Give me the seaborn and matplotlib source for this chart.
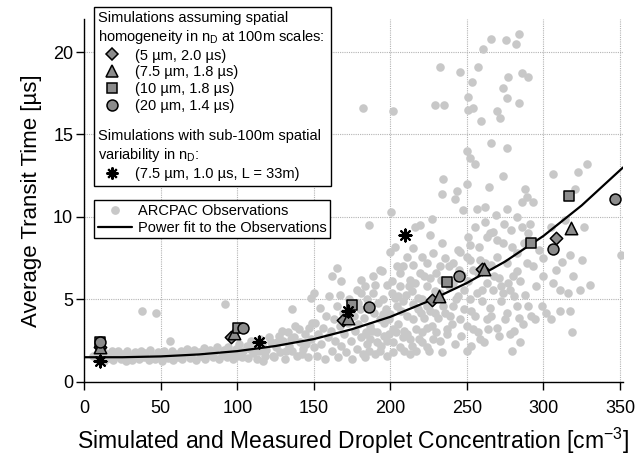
import numpy as np
import matplotlib
matplotlib.use("Agg")
import matplotlib.pyplot as plt
import seaborn as sns
from matplotlib.lines import Line2D
from matplotlib.legend import Legend
from matplotlib.patches import Rectangle
from matplotlib.transforms import Bbox

# ARCPAC observations (grouped by x range)
obs_x = [
    # dense band, x < 60
    6, 8, 9, 11, 12, 13, 15, 16, 18, 19,
    21, 22, 24, 25, 27, 28, 30, 31, 33, 34,
    36, 37, 39, 40, 42, 43, 45, 46, 48, 49,
    51, 52, 54, 55, 57, 58, 60,
    # band 60-100
    61, 63, 64, 66, 67, 69, 70, 72, 73, 75,
    76, 78, 79, 81, 82, 84, 85, 87, 88, 90,
    91, 93, 94, 96, 97, 99, 100,
    # band 100-150
    101, 103, 104, 106, 107, 109, 110, 112, 113, 115,
    116, 118, 119, 121, 122, 124, 125, 127, 128, 130,
    131, 133, 134, 136, 137, 139, 140, 141, 143, 144,
    146, 147, 148, 150,
    102, 108, 114, 117, 123, 126, 129, 132, 135, 138,
    142, 145, 149,
    # scattered outliers at low x
    38, 47, 56, 92, 136, 148, 150,
    # 150-185
    151, 152, 153, 154, 155, 156, 157, 158, 159, 160,
    161, 162, 162, 163, 164, 165, 165, 166, 167, 167,
    168, 168, 169, 170, 171, 172, 173, 174, 175, 176,
    177, 178, 178, 179, 180, 181, 181, 182, 183, 184,
    185, 185,
    # 185-230
    186.2, 186.7, 188.8, 188.8, 183.4, 183.4, 190, 193.2, 193.2, 194.3,
    195.3, 197.6, 199.7, 200.2, 200.8, 201.9, 203, 204.1, 204.1, 206.3,
    206, 208, 208.4, 210.6, 212.8, 212.8, 215, 215, 215, 215,
    216, 219.3, 219.3, 220.4, 220.4, 223.7, 223.7, 223.7, 225.9, 227,
    227, 228,
    187, 189, 191, 192, 194, 196, 197, 198, 199, 200,
    202, 203, 205, 207, 209, 210, 211, 213, 214, 217,
    218, 219, 221, 222, 224, 226, 229, 230,
    179, 181, 184, 186, 188, 190, 191, 193, 195, 196,
    198, 199, 201, 202, 204, 205, 206, 208, 209, 211,
    212, 214, 216, 217, 218, 220, 221, 222, 224, 225,
    226, 228, 229, 230,
    # 230-290
    232.4, 232.4, 232.4, 233.5, 233.5, 234.6, 234.6, 235.7, 236.8, 241.1,
    241.1, 241.1, 242.2, 243.3, 244.3, 245.5, 245.5, 247.6, 249.8, 249.8,
    250.2, 252, 252, 252, 252, 254.2, 255.3, 255.3, 256.4, 256.4,
    258.5, 258.5, 261.8, 261.8, 262.9, 262.9, 264.6, 267.2, 267.2, 269,
    269.4, 269.4, 273.8, 273.8, 273.8, 276, 276, 276, 279.2, 279.2,
    280.3, 282.5, 282.5, 282.5, 284.7, 285.8, 285.8, 286.8, 287.9, 289,
    289, 290,
    238, 239, 244, 247, 248, 251, 253, 257, 260, 263,
    265, 266, 271, 272, 278, 281,
    231, 233, 234, 236, 237, 238, 240, 242, 243, 245,
    246, 248, 250, 251, 253, 254, 255, 257, 258, 260,
    261, 262, 264, 265, 266, 268, 270, 271, 272, 274,
    275, 277, 278, 279, 281, 283, 284, 285, 287, 288,
    290,
    # 290-352
    291.2, 293.4, 293.4, 294.5, 298.8, 299.9, 304.7, 306, 306.4, 310.8,
    310.8, 316.2, 317.3, 317.3, 318.4, 319.5, 320.6, 322.8, 323.9, 326.5,
    328.2, 330.4, 351,
    292, 295, 297, 300, 302, 305, 308, 312, 314, 325,
    # high values
    182, 201.6, 232.6, 229.3, 235, 245.7, 257.4, 260.7, 265.9, 275.3,
    282, 284.2, 253.5, 250.9, 250.5, 253.7, 259.4, 269.6, 271.4, 273.3,
    276.2, 276.6, 283.8, 286, 290, 265.7, 276.2, 249.8,
]
obs_y = [
    1.6, 1.4, 1.8, 1.5, 1.9, 1.3, 1.7, 1.45, 1.85, 1.35,
    1.6, 1.9, 1.4, 1.7, 1.3, 1.85, 1.55, 1.35, 1.8, 1.6,
    1.4, 1.9, 1.5, 1.75, 1.35, 1.95, 1.6, 1.4, 1.8, 1.55,
    1.3, 1.9, 1.65, 1.45, 1.85, 1.35, 1.7,
    1.5, 1.9, 1.4, 1.75, 2.0, 1.45, 1.65, 1.95, 1.35, 1.8,
    1.55, 2.05, 1.4, 1.7, 1.95, 1.5, 1.8, 2.1, 1.4, 1.65,
    1.95, 1.5, 2.15, 1.75, 1.4, 2.0, 1.6,
    2.3, 1.5, 1.9, 2.2, 1.45, 2.5, 1.75, 2.05, 1.4, 2.6,
    2.3, 1.6, 1.95, 2.7, 2.4, 1.5, 2.1, 2.8, 1.8, 2.5,
    1.4, 3.0, 2.2, 1.9, 2.7, 1.6, 3.2, 2.4, 2.0, 2.9,
    1.5, 3.3, 2.6, 2.1,
    1.7, 2.0, 1.9, 1.3, 1.6, 2.4, 3.1, 1.9, 2.6, 3.4,
    1.7, 2.3, 3.6,
    4.3, 4.2, 2.5, 4.7, 4.4, 5.1, 5.4,
    3.6, 1.6, 2.9, 4.5, 2.3, 3.3, 1.4, 4.0, 2.7, 5.2,
    3.1, 6.4, 1.9, 3.8, 2.5, 6.9, 4.6, 1.5, 5.3, 3.4,
    6.1, 2.2, 4.2, 2.9, 1.8, 3.6, 5.0, 2.5, 1.4, 4.0,
    3.1, 5.6, 2.0, 3.5, 4.4, 5.4, 2.7, 1.7, 3.9, 3.0,
    5.0, 2.3,
    9.5, 3.4, 6.4, 5.4, 5.8, 1.5, 1.7, 3.8, 6.8, 6.7,
    5.0, 2.5, 7.9, 10.3, 5.4, 3.2, 8.2, 7.0, 4.6, 5.8,
    6.6, 7.0, 2.7, 7.6, 6.2, 1.7, 8.1, 7.1, 4.7, 3.8,
    9.4, 9.5, 6.6, 7.6, 3.0, 7.2, 5.8, 2.1, 8.9, 9.9,
    3.4, 7.8,
    2.6, 4.2, 3.0, 4.8, 2.2, 3.6, 4.4, 5.9, 2.9, 4.1,
    2.4, 5.1, 3.5, 4.3, 3.1, 5.3, 4.0, 2.6, 5.5, 3.2,
    4.4, 2.6, 5.0, 3.9, 4.6, 6.3, 4.2, 3.0,
    4.8, 6.2, 2.9, 1.9, 3.1, 5.9, 2.4, 1.9, 4.1, 2.8,
    1.6, 3.8, 6.1, 1.8, 3.0, 5.2, 2.1, 4.9, 1.9, 2.9,
    5.8, 2.2, 6.0, 1.9, 5.1, 4.2, 2.4, 6.4, 3.3, 1.9,
    4.3, 2.6, 5.5, 6.6,
    7.0, 5.4, 2.5, 8.4, 11.4, 12.3, 4.6, 7.5, 3.2, 7.2,
    6.0, 4.6, 11.1, 11.6, 8.0, 7.9, 3.8, 10.4, 7.6, 1.9,
    12.0, 13.6, 8.3, 7.4, 5.0, 3.2, 13.2, 9.4, 10.5, 5.4,
    7.4, 2.6, 10.6, 9.7, 8.8, 3.8, 11.8, 9.1, 5.6, 10.1,
    7.6, 3.3, 12.5, 8.4, 5.4, 10.5, 7.2, 4.2, 8.2, 1.9,
    6.4, 10.0, 6.7, 4.6, 2.4, 10.9, 9.4, 3.5, 11.7, 11.2,
    7.2, 4.6,
    5.8, 4.0, 5.2, 6.5, 4.4, 6.1, 4.3, 6.6, 4.9, 6.0,
    4.5, 7.1, 6.3, 4.9, 5.6, 3.1,
    3.9, 6.2, 1.8, 4.2, 2.9, 7.0, 3.5, 2.3, 5.0, 6.8,
    2.8, 5.6, 3.4, 8.8, 2.2, 6.8, 4.0, 3.0, 8.2, 5.6,
    2.4, 7.2, 3.2, 9.0, 4.0, 6.4, 8.6, 2.8, 5.8, 9.6,
    3.8, 6.0, 2.9, 9.2, 5.2, 7.8, 3.9, 6.1, 8.4, 5.3,
    9.0,
    9.6, 10.9, 7.0, 3.8, 4.6, 6.4, 3.8, 12.6, 6.0, 5.6,
    4.3, 5.4, 7.7, 4.3, 3.0, 6.4, 11.7, 12.7, 5.6, 9.4,
    13.2, 5.9, 7.7,
    4.0, 5.8, 8.0, 7.5, 4.2, 9.4, 6.8, 7.3, 9.8, 7.4,
    16.6, 16.4, 19.1, 16.8, 16.8, 18.8, 19.1, 20.2, 20.8, 20.7,
    20.5, 21.1, 18.2, 17.3, 16.5, 16.6, 15.8, 16.4, 16.0, 17.8,
    17.2, 18.5, 16.9, 18.7, 18.5, 14.5, 14.2, 14.0,
]

# power fit curve, read at regular x positions
fit_x = [0, 25, 50, 75, 100, 125, 150, 175, 200, 225, 250, 275, 300, 325, 352]
fit_y = [1.5, 1.5, 1.55, 1.67, 1.87, 2.18, 2.6, 3.2, 3.95, 4.9, 6.0, 7.3, 8.85, 10.7, 13.0]

# simulations, homogeneous n_D
dia_x = [10, 96, 169, 227, 260, 308]
dia_y = [2.1, 2.75, 3.75, 4.95, 6.85, 8.75]
tri_x = [10, 98, 172.5, 232, 261.5, 318]
tri_y = [2.15, 2.95, 3.85, 5.2, 6.85, 9.35]
sq_x = [10, 100.5, 175, 237, 292, 317]
sq_y = [2.45, 3.25, 4.65, 6.05, 8.45, 11.25]
circ_x = [10, 104, 186, 245, 306, 346.5]
circ_y = [2.4, 3.25, 4.55, 6.4, 8.05, 11.1]
# simulations with sub-100m variability
star_x = [10, 114, 172, 209.5]
star_y = [1.3, 2.4, 4.3, 8.9]

sim_labels = ['(5 µm, 2.0 µs)', '(7.5 µm, 1.8 µs)', '(10 µm, 1.8 µs)', '(20 µm, 1.4 µs)']
star_label = '(7.5 µm, 1.0 µs, L = 33m)'
hdr1 = 'Simulations assuming spatial\nhomogeneity in n$_D$ at 100m scales:'
hdr2 = 'Simulations with sub-100m spatial\nvariability in n$_D$:'


sns.set_style('ticks')
plt.rcParams['font.family'] = ['Liberation Sans', 'DejaVu Sans']
plt.rcParams['mathtext.default'] = 'regular'
for k in ['text.color', 'axes.labelcolor', 'xtick.color', 'ytick.color', 'axes.edgecolor']:
    plt.rcParams[k] = 'black'

fig, ax = plt.subplots(figsize=(6.37, 4.58), dpi=100)
fig.subplots_adjust(left=0.1323, right=0.978, bottom=0.166, top=0.9585)

ax.grid(True, color='#b4b4b4', linestyle=(0, (1, 1)), linewidth=0.8)
ax.set_axisbelow(True)

grey = '#c8c8c8'
sns.scatterplot(x=obs_x, y=obs_y, color=grey, s=38, linewidth=0, ax=ax, zorder=2)
sns.lineplot(x=fit_x, y=fit_y, color='black', linewidth=1.6, ax=ax, zorder=3)

fill = '#8c8c8c'
sim_kw = dict(color=fill, edgecolor='black', linewidth=1.1, zorder=4, ax=ax)
sns.scatterplot(x=dia_x, y=dia_y, marker='D', s=40, **sim_kw)
sns.scatterplot(x=tri_x, y=tri_y, marker='^', s=80, **sim_kw)
sns.scatterplot(x=sq_x, y=sq_y, marker='s', s=55, **sim_kw)
sns.scatterplot(x=circ_x, y=circ_y, marker='o', s=62, **sim_kw)
ax.scatter(star_x, star_y, marker=(8, 2, 0), s=75, color='black', linewidths=1.5, zorder=5)

ax.set_xlim(0, 352)
ax.set_ylim(0, 22)
ax.set_xticks(range(0, 351, 50))
ax.set_yticks(range(0, 21, 5))
sns.despine(ax=ax)
for sp in ['left', 'bottom']:
    ax.spines[sp].set_linewidth(1.0)
ax.tick_params(axis='both', direction='out', length=6, width=1, labelsize=13)
ax.tick_params(axis='x', pad=7)
ax.tick_params(axis='y', pad=2)

ax.set_xlabel('Simulated and Measured Droplet Concentration [cm$^{-3}$]', fontsize=16.5, labelpad=6)
ax.set_ylabel('Average Transit Time [µs]', fontsize=16, labelpad=8)

# legends
fs = 10.5
mk = dict(ls='', markerfacecolor=fill, markeredgecolor='black', markeredgewidth=1.1)
h_dia = Line2D([], [], marker='D', markersize=6.3, **mk)
h_tri = Line2D([], [], marker='^', markersize=9, **mk)
h_sq = Line2D([], [], marker='s', markersize=7.4, **mk)
h_circ = Line2D([], [], marker='o', markersize=7.9, **mk)
h_star = Line2D([], [], marker=(8, 2, 0), markersize=8.6, ls='', color='black', markeredgewidth=1.5)

sub_kw = dict(loc='upper left', frameon=False, alignment='left', fontsize=fs,
              title_fontsize=fs, handlelength=1.9, handletextpad=0.6,
              labelspacing=0.2, borderpad=0, borderaxespad=0)

lg1 = Legend(ax, [h_dia, h_tri, h_sq, h_circ], sim_labels, title=hdr1,
             bbox_to_anchor=(0.026, 1.022), **sub_kw)
lg1.set_zorder(10)
ax.add_artist(lg1)

h_obs = Line2D([], [], marker='o', ls='', markerfacecolor=grey, markeredgewidth=0, markersize=6.3)
h_fit = Line2D([], [], color='black', lw=1.6)
lg3 = Legend(ax, [h_obs, h_fit], ['ARCPAC Observations', 'Power fit to the Observations'],
             loc='upper left', bbox_to_anchor=(0.018, 0.501), fontsize=fs, handlelength=2.35,
             handletextpad=0.4, labelspacing=0.2, borderpad=0.25, borderaxespad=0,
             frameon=True, fancybox=False, edgecolor='black', framealpha=1)
lg3.get_frame().set_linewidth(1.0)
lg3.set_zorder(10)
ax.add_artist(lg3)

# place the second block under the first and frame both together
fig.canvas.draw()
r = fig.canvas.get_renderer()
bb1 = lg1.get_window_extent(r)
ax_pt = ax.transAxes.inverted().transform((bb1.x0, bb1.y0 - 16))
lg2 = Legend(ax, [h_star], [star_label], title=hdr2, bbox_to_anchor=tuple(ax_pt), **sub_kw)
lg2.set_zorder(10)
ax.add_artist(lg2)

fig.canvas.draw()
bb = Bbox.union([lg1.get_window_extent(r), lg2.get_window_extent(r)])
p0 = ax.transAxes.inverted().transform((bb.x0 - 4, bb.y0 - 5))
p1 = ax.transAxes.inverted().transform((bb.x1 + 6, bb.y1 + 4))
frame = Rectangle(p0, p1[0] - p0[0], p1[1] - p0[1], transform=ax.transAxes,
                  facecolor='white', edgecolor='black', linewidth=1.0,
                  zorder=9, clip_on=False)
ax.add_patch(frame)
ax.set_xlim(0, 352)
ax.set_ylim(0, 22)

fig.savefig('out.png', dpi=100)
